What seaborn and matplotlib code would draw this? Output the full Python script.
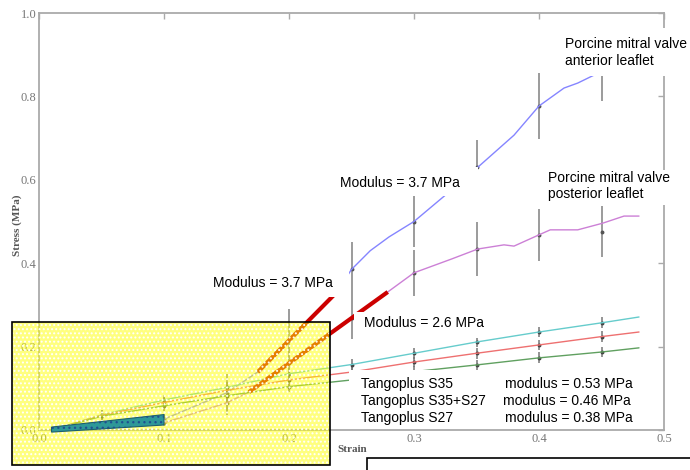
import numpy as np
import pandas as pd
import seaborn as sns
import matplotlib.pyplot as plt
from matplotlib.patches import Rectangle, Polygon

sns.set_style('white')
plt.rcParams['font.family'] = ['Liberation Sans', 'DejaVu Sans']
plt.rcParams['hatch.linewidth'] = 0.9

# porcine mitral valve, anterior leaflet
ant_strain = [0.01, 0.05, 0.1, 0.15, 0.175, 0.2, 0.238, 0.25, 0.265, 0.28, 0.3, 0.327, 0.351,
              0.38, 0.40, 0.42, 0.431, 0.444, 0.45]
ant_stress = [0.0, 0.008, 0.026, 0.089, 0.139, 0.215, 0.33, 0.385, 0.43, 0.463, 0.50, 0.568, 0.63,
              0.707, 0.777, 0.82, 0.832, 0.851, 0.86]
# posterior leaflet
post_strain = [0.01, 0.05, 0.1, 0.15, 0.168, 0.2, 0.25, 0.279, 0.3, 0.33, 0.351, 0.372, 0.38,
               0.40, 0.409, 0.431, 0.451, 0.468, 0.48]
post_stress = [0.0, 0.006, 0.017, 0.065, 0.091, 0.16, 0.268, 0.331, 0.377, 0.41, 0.434, 0.444, 0.441,
               0.468, 0.48, 0.48, 0.496, 0.513, 0.513]

# tangoplus samples
tp_strain = [0.01, 0.05, 0.1, 0.15, 0.2, 0.25, 0.3, 0.35, 0.4, 0.45, 0.48]
tp_s35 = [0.0, 0.036, 0.072, 0.102, 0.135, 0.157, 0.184, 0.211, 0.235, 0.257, 0.271]
tp_mix = [0.0, 0.035, 0.066, 0.095, 0.12, 0.139, 0.163, 0.184, 0.204, 0.224, 0.235]
tp_s27 = [0.0, 0.033, 0.058, 0.082, 0.104, 0.12, 0.14, 0.156, 0.173, 0.187, 0.197]

# error bars
eb_strain = [0.1, 0.15, 0.2, 0.25, 0.3, 0.35, 0.4, 0.45]
ant_mean = [0.026, 0.089, 0.215, 0.385, 0.50, 0.63, 0.777, 0.86]
ant_err = [0.012, 0.045, 0.075, 0.065, 0.06, 0.065, 0.08, 0.07]
post_mean = [0.017, 0.065, 0.16, 0.268, 0.377, 0.434, 0.468, 0.476]
post_err = [0.008, 0.03, 0.06, 0.05, 0.055, 0.065, 0.063, 0.06]
tp_eb_idx = [1, 2, 3, 4, 5, 6, 7, 8, 9]
tp_err = 0.013

# linear fits (modulus lines)
fit_ant_x = [0.175, 0.238]
fit_ant_y = [0.139, 0.33]
fit_post_x = [0.168, 0.279]
fit_post_y = [0.091, 0.331]

# initial region band
band_x = [0.01, 0.1]
band_lo = [-0.005, 0.012]
band_hi = [0.007, 0.037]

W, H = 690, 470
fig = plt.figure(figsize=(6.9, 4.7), dpi=100)
ax = fig.add_axes([39 / W, 1 - 430 / H, (664 - 39) / W, (430 - 13) / H])

series = [
    (ant_strain, ant_stress, '#8585ff'),
    (post_strain, post_stress, '#cc80d6'),
    (tp_strain, tp_s35, '#66cccc'),
    (tp_strain, tp_mix, '#ee7070'),
    (tp_strain, tp_s27, '#60a060'),
]
for xs, ys, c in series:
    sns.lineplot(x=xs, y=ys, ax=ax, color=c, lw=1.0, sort=False)

ax.errorbar(eb_strain, ant_mean, yerr=ant_err, fmt='o', ms=1.8, color='#555555',
            ecolor='#8a8a8a', elinewidth=1.2, capsize=0, zorder=1)
ax.errorbar(eb_strain, post_mean, yerr=post_err, fmt='o', ms=1.8, color='#555555',
            ecolor='#8a8a8a', elinewidth=1.2, capsize=0, zorder=1)
for ys in (tp_s35, tp_mix, tp_s27):
    xe = [tp_strain[i] for i in tp_eb_idx]
    ye = [ys[i] for i in tp_eb_idx]
    ax.errorbar(xe, ye, yerr=tp_err, fmt='o', ms=1.8, color='#444444',
                ecolor='#777777', elinewidth=1.1, capsize=0, zorder=1)

ax.plot(fit_ant_x, fit_ant_y, color='#cc0000', lw=3, solid_capstyle='butt', zorder=3)
ax.plot(fit_post_x, fit_post_y, color='#cc0000', lw=3, solid_capstyle='butt', zorder=3)

ax.set_xlim(0, 0.5)
ax.set_ylim(0, 1.0)
ax.set_xticks(np.arange(0, 0.51, 0.1), labels=['0.0', '0.1', '0.2', '0.3', '0.4', '0.5'],
              fontfamily='Liberation Serif')
ax.set_yticks(np.arange(0, 1.01, 0.2), labels=['0.0', '0.2', '0.4', '0.6', '0.8', '1.0'],
              fontfamily='Liberation Serif')
ax.tick_params(direction='in', length=4, width=1, color='#aaaaaa', labelcolor='#777777',
               labelsize=9, top=True, right=True, pad=2)
for s in ax.spines.values():
    s.set_color('#aaaaaa')
    s.set_linewidth(1.3)
ax.set_xlabel('Strain', fontfamily='Liberation Serif', fontweight='bold', fontsize=8, color='#555555')
ax.set_ylabel('Stress (MPa)', fontfamily='Liberation Serif', fontweight='bold', fontsize=8, color='#555555')
ax.xaxis.set_label_coords(0.502, -0.036)
ax.yaxis.set_label_coords(-0.027, 0.49)


def box(x0, y0, x1, y1, **kw):
    r = Rectangle((x0 / W, 1 - y1 / H), (x1 - x0) / W, (y1 - y0) / H,
                  transform=fig.transFigure, **kw)
    fig.add_artist(r)


def txt(x, y, s):
    fig.text(x / W, 1 - y / H, s, ha='left', va='baseline', fontsize=10, color='black', zorder=6)


# white label backgrounds
box(558, 28, 700, 76, facecolor='white', edgecolor='none', zorder=5)
box(330, 167, 478, 196, facecolor='white', edgecolor='none', zorder=5)
box(543, 170, 700, 205, facecolor='white', edgecolor='none', zorder=5)
box(205, 270, 349, 297, facecolor='white', edgecolor='none', zorder=5)
box(354, 312, 492, 338, facecolor='white', edgecolor='none', zorder=5)
box(349, 370, 658, 428, facecolor='white', edgecolor='none', zorder=5)

txt(565, 48, 'Porcine mitral valve')
txt(565, 65, 'anterior leaflet')
txt(548, 182, 'Porcine mitral valve')
txt(548, 198, 'posterior leaflet')
txt(340, 187, 'Modulus = 3.7 MPa')
txt(213, 287, 'Modulus = 3.7 MPa')
txt(364, 327, 'Modulus = 2.6 MPa')
txt(361, 388, 'Tangoplus S35')
txt(361, 405, 'Tangoplus S35+S27')
txt(361, 422, 'Tangoplus S27')
txt(505, 388, 'modulus = 0.53 MPa')
txt(503, 405, 'modulus = 0.46 MPa')
txt(505, 422, 'modulus = 0.38 MPa')

# yellow highlight of the low-strain region
box(12, 322, 330, 465, facecolor='#ffff00', alpha=0.5, edgecolor='none', zorder=7)
box(12, 322, 330, 465, facecolor='none', edgecolor='white', hatch='....', lw=0, zorder=8)
box(12, 322, 330, 465, facecolor='none', edgecolor='black', lw=1.2, zorder=9)

band = Polygon([(band_x[0], band_lo[0]), (band_x[1], band_lo[1]),
                (band_x[1], band_hi[1]), (band_x[0], band_hi[0])],
               closed=True, transform=ax.transData, facecolor='#2e9898',
               edgecolor='#1d5f6f', lw=0.8, zorder=10)
fig.add_artist(band)
dots = Polygon(band.get_xy(), closed=True, transform=ax.transData, facecolor='none',
               edgecolor='#1f4f90', hatch='...', lw=0, zorder=11)
fig.add_artist(dots)

# lower right framed box
box(367, 458, 720, 490, facecolor='white', edgecolor='black', lw=1.2, zorder=5)

fig.savefig('out.png', dpi=100)
